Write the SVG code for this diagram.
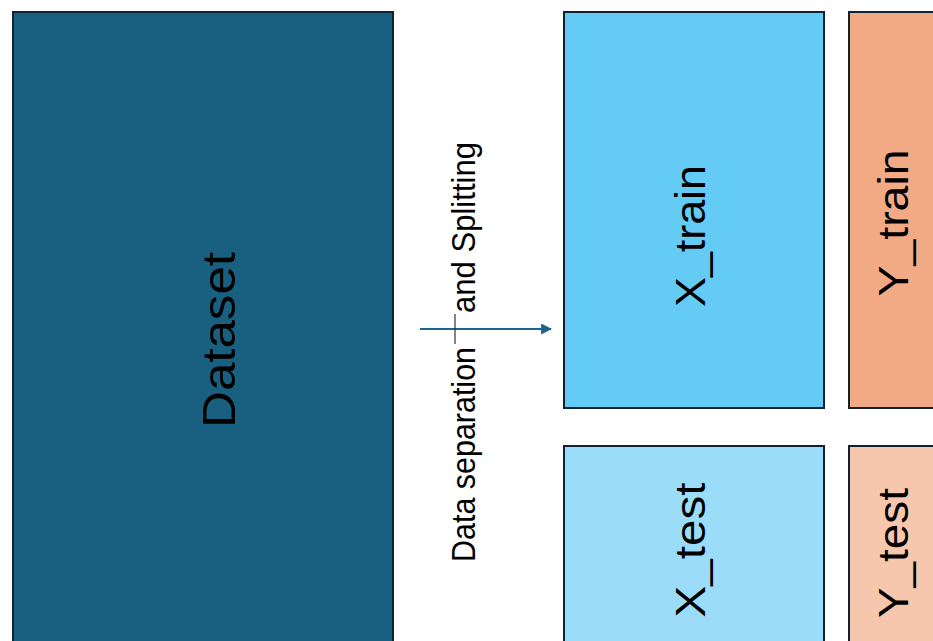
<svg xmlns="http://www.w3.org/2000/svg" width="933" height="641" viewBox="0 0 933 641">
  <defs>
    <style>
      .box { stroke: #0e2233; stroke-width: 2; }
      .lbl { font-family: "Liberation Sans", Arial, sans-serif; fill: #000; text-anchor: middle; }
      .link { stroke: #1b6589; stroke-width: 2.2; fill: none; }
    </style>
    <marker id="head" viewBox="0 0 10 10" refX="9" refY="5" markerWidth="5" markerHeight="5" orient="auto" markerUnits="strokeWidth">
      <path d="M0,0 L10,5 L0,10 Z" fill="#1b6589"/>
    </marker>
  </defs>
  <rect width="933" height="641" fill="#ffffff"/>

  <g id="dataset">
    <rect class="box" x="13" y="12" width="380" height="640" fill="#185f80"/>
    <text class="lbl" font-size="46" textLength="176" lengthAdjust="spacingAndGlyphs" transform="translate(235,340) rotate(-90)">Dataset</text>
  </g>

  <g id="x_train">
    <rect class="box" x="564" y="12" width="260" height="396" fill="#63cbf4"/>
    <text class="lbl" font-size="43" textLength="142" lengthAdjust="spacingAndGlyphs" transform="translate(705,236) rotate(-90)">X_train</text>
  </g>

  <g id="y_train">
    <rect class="box" x="849" y="12" width="100" height="396" fill="#f2aa84"/>
    <text class="lbl" font-size="43" textLength="147" lengthAdjust="spacingAndGlyphs" transform="translate(908,223) rotate(-90)">Y_train</text>
  </g>

  <g id="x_test">
    <rect class="box" x="564" y="446" width="260" height="210" fill="#9bddf8"/>
    <text class="lbl" font-size="43" textLength="135" lengthAdjust="spacingAndGlyphs" transform="translate(705,550) rotate(-90)">X_test</text>
  </g>

  <g id="y_test">
    <rect class="box" x="849" y="446" width="100" height="210" fill="#f6c7ad"/>
    <text class="lbl" font-size="43" textLength="130" lengthAdjust="spacingAndGlyphs" transform="translate(908,553) rotate(-90)">Y_test</text>
  </g>

  <g id="connectors">
    <line class="link" x1="420" y1="329" x2="551" y2="329" marker-end="url(#head)"/>
    <line x1="455" y1="314" x2="455" y2="344" stroke="#333333" stroke-width="1.2"/>
    <text class="lbl" font-size="33" textLength="215" lengthAdjust="spacingAndGlyphs" transform="translate(475,454.5) rotate(-90)">Data separation</text>
    <text class="lbl" font-size="33" textLength="171" lengthAdjust="spacingAndGlyphs" transform="translate(475,227.5) rotate(-90)">and Splitting</text>
  </g>
</svg>
